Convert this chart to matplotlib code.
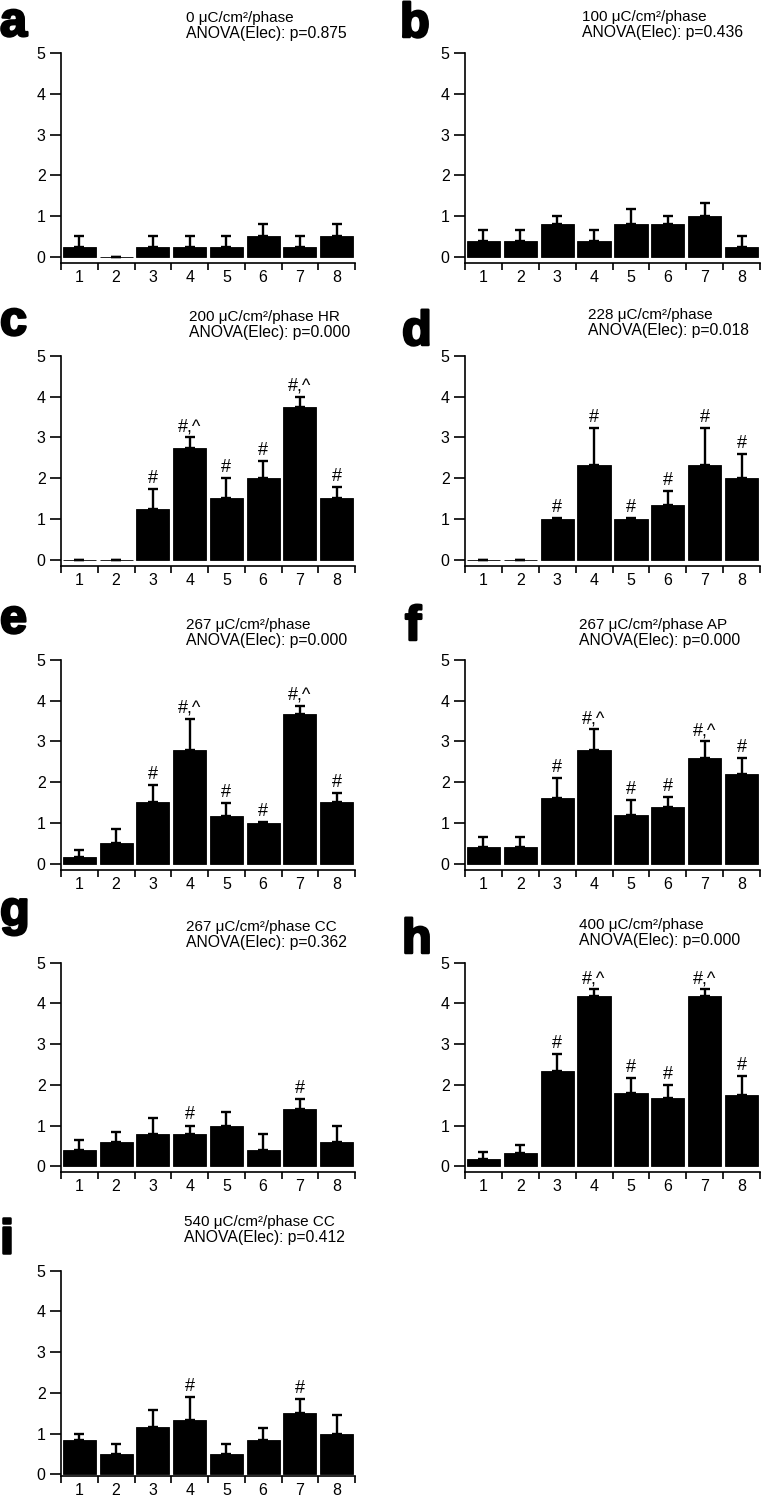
import matplotlib
matplotlib.use("Agg")
import matplotlib.pyplot as plt
from matplotlib.ticker import FixedLocator
import matplotlib.patheffects as pe
import numpy as np

plt.rcParams['font.family'] = ['Liberation Sans', 'DejaVu Sans']

# ---------------- data ----------------
electrodes = [1, 2, 3, 4, 5, 6, 7, 8]
panel_letters = ['a', 'b', 'c', 'd', 'e', 'f', 'g', 'h', 'i']
titles = [
    "0 μC/cm²/phase",
    "100 μC/cm²/phase",
    "200 μC/cm²/phase HR",
    "228 μC/cm²/phase",
    "267 μC/cm²/phase",
    "267 μC/cm²/phase AP",
    "267 μC/cm²/phase CC",
    "400 μC/cm²/phase",
    "540 μC/cm²/phase CC",
]
anova_p = ["0.875", "0.436", "0.000", "0.018", "0.000", "0.000", "0.362", "0.000", "0.412"]

vals_a = [0.25, 0.0, 0.25, 0.25, 0.25, 0.5, 0.25, 0.5]
err_a = [0.25, 0.0, 0.25, 0.25, 0.25, 0.3, 0.25, 0.3]
vals_b = [0.4, 0.4, 0.8, 0.4, 0.8, 0.8, 1.0, 0.25]
err_b = [0.25, 0.25, 0.2, 0.25, 0.38, 0.2, 0.32, 0.25]
vals_c = [0.0, 0.0, 1.25, 2.75, 1.5, 2.0, 3.75, 1.5]
err_c = [0.0, 0.0, 0.48, 0.25, 0.5, 0.41, 0.25, 0.29]
vals_d = [0.0, 0.0, 1.0, 2.33, 1.0, 1.33, 2.33, 2.0]
err_d = [0.0, 0.0, 0.02, 0.9, 0.02, 0.35, 0.9, 0.6]
vals_e = [0.17, 0.5, 1.5, 2.8, 1.17, 1.0, 3.67, 1.5]
err_e = [0.17, 0.34, 0.42, 0.75, 0.31, 0.02, 0.2, 0.22]
vals_f = [0.4, 0.4, 1.6, 2.8, 1.2, 1.4, 2.6, 2.2]
err_f = [0.25, 0.25, 0.5, 0.5, 0.37, 0.24, 0.4, 0.38]
vals_g = [0.4, 0.6, 0.8, 0.8, 1.0, 0.4, 1.4, 0.6]
err_g = [0.25, 0.25, 0.38, 0.2, 0.32, 0.4, 0.24, 0.4]
vals_h = [0.17, 0.33, 2.33, 4.17, 1.8, 1.67, 4.17, 1.75]
err_h = [0.17, 0.2, 0.43, 0.18, 0.37, 0.33, 0.18, 0.47]
vals_i = [0.83, 0.5, 1.17, 1.33, 0.5, 0.83, 1.5, 1.0]
err_i = [0.17, 0.23, 0.4, 0.57, 0.23, 0.31, 0.34, 0.46]

marks_a = [''] * 8
marks_b = [''] * 8
marks_c = ['', '', '#', '#,^', '#', '#', '#,^', '#']
marks_d = ['', '', '#', '#', '#', '#', '#', '#']
marks_e = ['', '', '#', '#,^', '#', '#', '#,^', '#']
marks_f = ['', '', '#', '#,^', '#', '#', '#,^', '#']
marks_g = ['', '', '', '#', '', '', '#', '']
marks_h = ['', '', '#', '#,^', '#', '#', '#,^', '#']
marks_i = ['', '', '', '#', '', '', '#', '']

all_vals = [vals_a, vals_b, vals_c, vals_d, vals_e, vals_f, vals_g, vals_h, vals_i]
all_errs = [err_a, err_b, err_c, err_d, err_e, err_f, err_g, err_h, err_i]
all_marks = [marks_a, marks_b, marks_c, marks_d, marks_e, marks_f, marks_g, marks_h, marks_i]

# ---------------- layout (pixels) ----------------
W, H = 761, 1500
fig = plt.figure(figsize=(W / 100, H / 100), dpi=100)

row_tops = [53.3, 356.0, 660.0, 962.7, 1270.7]
row_ymin = [-0.15, -0.15, -0.15, -0.15, -0.05]
col_lefts = [61.0, 465.0]
col_widths = [294.0, 295.0]
unit_px = 40.7
ymax = 5.0

# title (x left, baseline of 2nd line) and letters (x left, baseline)
title_pos = [(186, 38), (582, 37), (189, 337), (588, 335), (186, 645),
             (579, 645), (186, 947), (579, 945), (184, 1242)]
letter_pos = [(0, 36), (400, 37), (0, 335), (402, 345), (0, 633),
              (405, 640), (0, 925), (402, 953), (0, 1253)]


def fx(px):
    return px / W


def fy(py):
    return 1 - py / H


for k in range(9):
    row, col = divmod(k, 2)
    top = row_tops[row]
    ymin = row_ymin[row]
    ax_h = (ymax - ymin) * unit_px
    left = col_lefts[col]
    ax = fig.add_axes([fx(left), fy(top + ax_h), col_widths[col] / W, ax_h / H])
    x = np.array(electrodes)
    v = np.array(all_vals[k])
    e = np.array(all_errs[k])
    ax.bar(x, v, width=0.9, color='black', edgecolor='black', linewidth=0.6, zorder=2)
    ax.errorbar(x, v, yerr=[np.zeros_like(e), e], fmt='none', ecolor='black',
                elinewidth=1.7, capsize=3.4, capthick=1.7, zorder=3)
    for xi, vi, ei, m in zip(x, v, e, all_marks[k]):
        if m:
            ax.annotate(m, (xi, vi + ei), xytext=(0, 1.5), textcoords='offset points',
                        ha='center', va='bottom', fontsize=13)
    ax.set_xlim(0.5, 8.5)
    ax.set_ylim(ymin, ymax)
    ax.spines['top'].set_visible(False)
    ax.spines['right'].set_visible(False)
    for s in ('left', 'bottom'):
        ax.spines[s].set_linewidth(1.2)
    ax.set_yticks([0, 1, 2, 3, 4, 5])
    ax.set_xticks(electrodes)
    ax.set_xticklabels([str(c) for c in electrodes])
    ax.xaxis.set_minor_locator(FixedLocator(np.arange(0.5, 9.0, 1.0)))
    ax.tick_params(axis='y', direction='out', length=8, width=1.2, pad=3, labelsize=11.5)
    ax.tick_params(axis='x', which='major', length=0, pad=5, labelsize=11.5)
    ax.tick_params(axis='x', which='minor', direction='out', length=5, width=1.2)

    tx, tb = title_pos[k]
    fig.text(fx(tx), fy(tb - 16), titles[k], fontsize=11, ha='left', va='baseline')
    fig.text(fx(tx), fy(tb), "ANOVA(Elec): p=" + anova_p[k], fontsize=11.3,
             ha='left', va='baseline')
    lx, lb = letter_pos[k]
    fig.text(fx(lx), fy(lb), panel_letters[k], fontsize=35, fontweight='bold',
             ha='left', va='baseline',
             path_effects=[pe.withStroke(linewidth=1.8, foreground='black')])

fig.savefig("out.png", dpi=100)
